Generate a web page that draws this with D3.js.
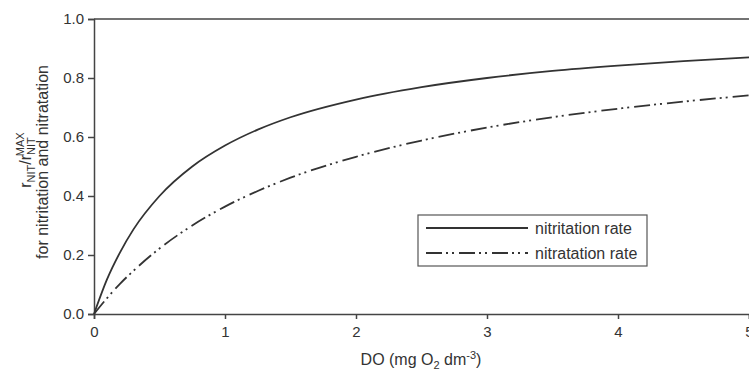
<!DOCTYPE html>
<html>
<head>
<meta charset="utf-8">
<script src="https://cdn.jsdelivr.net/npm/d3@7"></script>
<style>
  body { margin: 0; background: #fff; }
  text { font-family: "Liberation Sans", Arial, sans-serif; fill: #333; }
</style>
</head>
<body>
<div id="chart"></div>
<script>
// values
const doValues = [0, 0.1, 0.2, 0.3, 0.5, 0.75, 1, 1.25, 1.5, 2, 2.5, 3, 3.5, 4, 4.5, 5];
const nitritation = [0, 0.118, 0.21, 0.286, 0.40, 0.50, 0.571, 0.625, 0.667, 0.727, 0.769, 0.80, 0.824, 0.842, 0.857, 0.87];
const nitratation = [0, 0.054, 0.103, 0.146, 0.222, 0.30, 0.364, 0.417, 0.462, 0.533, 0.588, 0.632, 0.667, 0.696, 0.72, 0.741];
const xTicks = [0, 1, 2, 3, 4, 5];
const yTicks = [0, 0.2, 0.4, 0.6, 0.8, 1.0];

var margin = {top: 19, right: 0, bottom: 56, left: 94},
    width = 749 - margin.left - margin.right,
    height = 370 - margin.top - margin.bottom;

let svg = d3.select("#chart")
    .append("svg")
    .attr("width", 749)
    .attr("height", 370)
    .append("g")
    .attr("transform", "translate(" + margin.left + "," + margin.top + ")");

var x = d3.scaleLinear().domain([0, 5]).range([0, width]);
var y = d3.scaleLinear().domain([0, 1]).range([height, 0]);

// axes
let xAxis = svg.append("g")
    .attr("transform", "translate(0," + height + ")")
    .call(d3.axisBottom(x).tickValues(xTicks).tickFormat(d3.format("d")).tickSize(5).tickPadding(7));
let yAxis = svg.append("g")
    .call(d3.axisLeft(y).tickValues(yTicks).tickFormat(d3.format(".1f")).tickSize(6).tickPadding(4));

[xAxis, yAxis].forEach(function(a) {
    a.selectAll("path, line").attr("stroke", "#444").attr("stroke-width", 1.5);
    a.selectAll("text").style("font-size", "15px").style("fill", "#333");
});

// top frame line
svg.append("line")
    .attr("x1", 0).attr("x2", width)
    .attr("y1", 0).attr("y2", 0)
    .attr("stroke", "#444").attr("stroke-width", 1.5);

// curves
const line = d3.line()
    .x((d) => x(d[0]))
    .y((d) => y(d[1]))
    .curve(d3.curveMonotoneX);

const dashPattern = "16,4,2,4,2,5";

svg.append("path")
    .datum(doValues.map((d, i) => [d, nitritation[i]]))
    .attr("d", line)
    .attr("fill", "none")
    .attr("stroke", "#333")
    .attr("stroke-width", 1.8);

svg.append("path")
    .datum(doValues.map((d, i) => [d, nitratation[i]]))
    .attr("d", line)
    .attr("fill", "none")
    .attr("stroke", "#333")
    .attr("stroke-width", 1.8)
    .attr("stroke-dasharray", dashPattern);

// legend
let legend = svg.append("g")
    .attr("transform", "translate(" + (418 - margin.left) + "," + (215 - margin.top) + ")");
legend.append("rect")
    .attr("width", 229).attr("height", 51)
    .attr("fill", "#fff").attr("stroke", "#555").attr("stroke-width", 1.2);
const legendItems = [
    {label: "nitritation rate", dash: null},
    {label: "nitratation rate", dash: dashPattern}
];
legend.selectAll("line.item")
    .data(legendItems)
    .enter()
    .append("line")
    .attr("class", "item")
    .attr("x1", 8).attr("x2", 110)
    .attr("y1", (d, i) => 13 + i * 25)
    .attr("y2", (d, i) => 13 + i * 25)
    .attr("stroke", "#333")
    .attr("stroke-width", 1.8)
    .attr("stroke-dasharray", (d) => d.dash);
legend.selectAll("text.item")
    .data(legendItems)
    .enter()
    .append("text")
    .attr("class", "item")
    .attr("x", 117)
    .attr("y", (d, i) => 19 + i * 25)
    .style("font-size", "16px")
    .text((d) => d.label);

// x axis label
let xl = svg.append("text")
    .attr("text-anchor", "middle")
    .attr("x", 421 - margin.left)
    .attr("y", 365 - margin.top)
    .style("font-size", "16px");
xl.append("tspan").text("DO (mg O");
xl.append("tspan").attr("dy", 4).style("font-size", "11px").text("2");
xl.append("tspan").attr("dy", -4).text(" dm");
xl.append("tspan").attr("dy", -6).style("font-size", "11px").text("-3");
xl.append("tspan").attr("dy", 6).text(")");

// y axis label (two lines)
let yl1 = svg.append("text")
    .attr("text-anchor", "middle")
    .attr("transform", "translate(" + (31 - margin.left) + "," + (160 - margin.top) + ") rotate(-90)")
    .style("font-size", "16px");
yl1.append("tspan").text("r");
yl1.append("tspan").attr("dy", 4).style("font-size", "11px").text("NIT");
yl1.append("tspan").attr("dy", -4).text("/r");
yl1.append("tspan").attr("dy", 4).style("font-size", "11px").text("NIT");
yl1.append("tspan").attr("dx", -19).attr("dy", -11).style("font-size", "11px").text("MAX");

svg.append("text")
    .attr("text-anchor", "middle")
    .attr("transform", "translate(" + (48 - margin.left) + "," + (162 - margin.top) + ") rotate(-90)")
    .style("font-size", "16px")
    .text("for nitritation and nitratation");
</script>
</body>
</html>
